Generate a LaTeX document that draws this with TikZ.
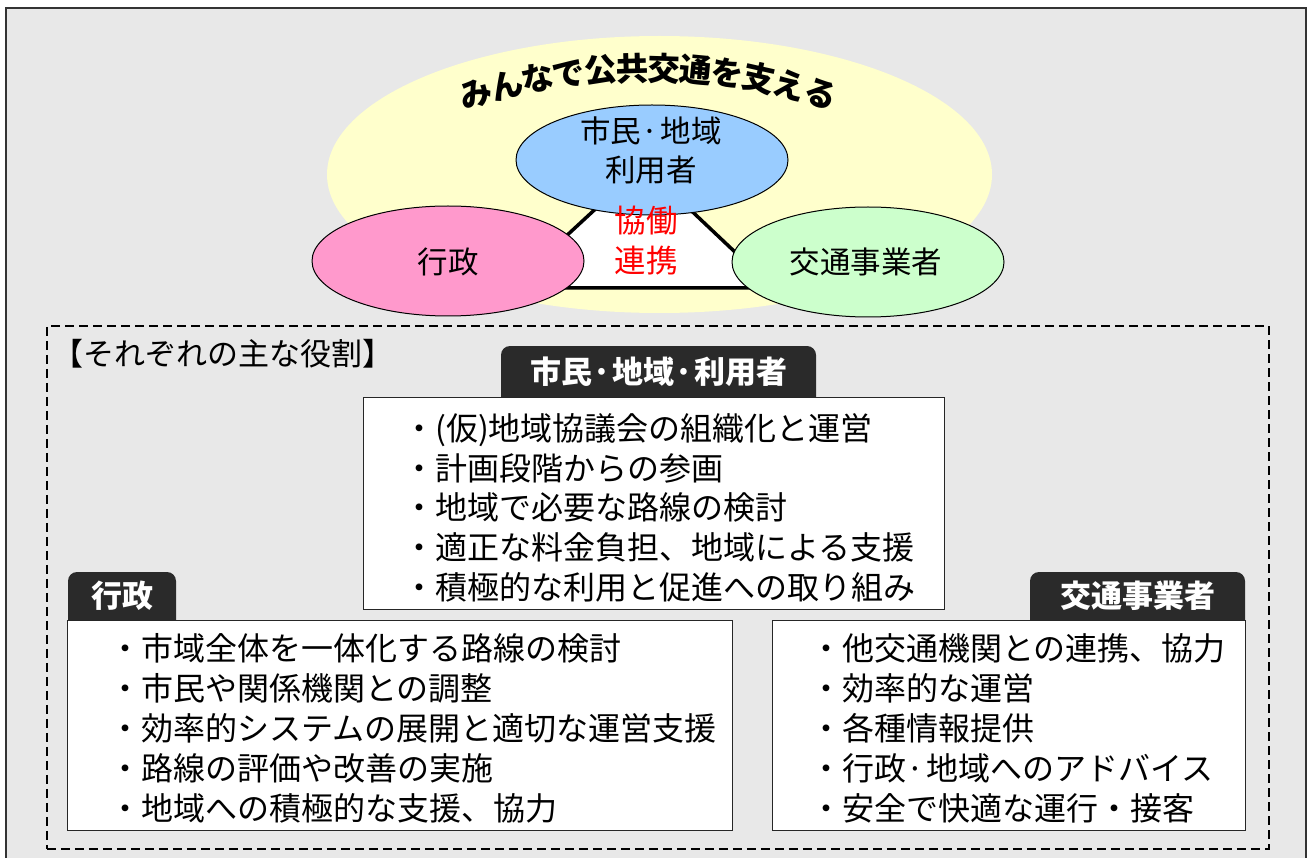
\documentclass[tikz,border=0pt]{standalone}
\usepackage{fontspec}
\setmainfont{Noto Sans CJK JP}
\usetikzlibrary{shapes.geometric,calc}
\definecolor{bggray}{RGB}{232,232,232}
\definecolor{ylw}{RGB}{255,255,204}
\definecolor{blu}{RGB}{153,204,255}
\definecolor{pnk}{RGB}{255,153,204}
\definecolor{grn}{RGB}{204,255,204}
\definecolor{tabc}{RGB}{42,42,42}
\newcommand\mdot{\makebox[0.63em][l]{·}}
\begin{document}
\begin{tikzpicture}[x=1pt,y=-1pt,
  ell/.style={ellipse,inner sep=0pt,minimum width=272pt,minimum height=110pt,draw=black,line width=1pt},
  elltext/.style={inner sep=0pt,font=\fontsize{30.5}{30.5}\selectfont,text height=26.8pt,text depth=3.7pt},
  redtext/.style={inner sep=0pt,text=red,font=\fontsize{31.5}{31.5}\selectfont,text height=27.7pt,text depth=3.8pt},
  titlechar/.style={inner sep=0pt,font=\fontsize{32.5}{32.5}\selectfont\bfseries,text height=28.6pt,text depth=3.9pt},
  bodytext/.style={anchor=west,inner sep=0pt,font=\fontsize{32}{32}\selectfont,text height=28.2pt,text depth=3.8pt},
  hdrtext/.style={anchor=west,inner sep=0pt,font=\fontsize{31}{31}\selectfont,text height=27.3pt,text depth=3.7pt},
  tabtext/.style={inner sep=0pt,text=white,font=\fontsize{31}{31}\selectfont\bfseries,text height=27.3pt,text depth=3.7pt},
  rolebox/.style={draw=black!85,fill=white,line width=1.4pt,inner sep=0pt,anchor=north west},
  tabshape/.style={fill=tabc,rounded corners=9pt}]
\useasboundingbox (0,0) rectangle (1311,858);
\clip (0,0) rectangle (1311,858);
\fill[white] (0,0) rectangle (1311,858);
\fill[bggray] (6,8) rectangle (1306,880);
\draw[line width=2pt,black!80] (6,880) -- (6,8) -- (1306,8) -- (1306,880);

% top diagram
\node[ellipse,inner sep=0pt,fill=ylw,minimum width=665pt,minimum height=277pt] (yellow) at (659.5,174.5) {};
\coordinate (ta) at (643,165);
\coordinate (tb) at (510,288);
\coordinate (tc) at (773,288);
\draw[fill=white,line width=3.5pt,line join=miter] (ta) -- (tb) -- (tc) -- cycle;
\node[ell,fill=blu] (citizen) at (652,160) {};
\node[ell,fill=pnk] (admin) at (448,261) {};
\node[ell,fill=grn] (operator) at (868,262) {};
\node[elltext] (ct1) at (651,131) {市民\mdot 地域};
\node[elltext] (ct2) at (651,170) {利用者};
\node[elltext] (at) at (448,262) {行政};
\node[elltext] (ot) at (866,262) {交通事業者};
\node[redtext] (r1) at (646,221) {協働};
\node[redtext] (r2) at (646,261) {連携};

% arched title
\foreach \c [count=\i from 0] in {み,ん,な,で,公,共,交,通,を,支,え,る} {
  \pgfmathsetmacro\ang{-16.6+\i*3.02}
  \pgfmathsetmacro\px{648+604*sin(\ang)}
  \pgfmathsetmacro\py{672-604*cos(\ang)}
  \node[titlechar,rotate={-1.2*\ang}] (title\i) at (\px,\py) {\c};
}

% roles
\node[draw=black,dash pattern=on 9pt off 5pt,line width=1.8pt,inner sep=0pt,anchor=north west,minimum width=1222pt,minimum height=523pt] (roles) at (46,325) {};
\node[hdrtext] (hdr) at (52,354) {【それぞれの主な役割】};

% citizens box
\fill[tabshape] (501,346) rectangle (816,412);
\node[rolebox,minimum width=581pt,minimum height=212pt] (box1) at (363,397) {};
\node[tabtext] (tab1) at (659,372) {市民\mdot 地域\mdot 利用者};
\foreach \t [count=\i from 0] in {・(仮)地域協議会の組織化と運営,・計画段階からの参画,・地域で必要な路線の検討,・適正な料金負担、地域による支援,・積極的な利用と促進への取り組み} {
  \node[bodytext] (b1l\i) at (403,{428+39.8*\i}) {\t};
}

% administration box
\fill[tabshape] (68,572) rectangle (176,635);
\node[rolebox,minimum width=665pt,minimum height=210pt] (box2) at (67,620) {};
\node[tabtext] (tab2) at (122,596) {行政};
\foreach \t [count=\i from 0] in {・市域全体を一体化する路線の検討,・市民や関係機関との調整,・効率的システムの展開と適切な運営支援,・路線の評価や改善の実施,・地域への積極的な支援、協力} {
  \node[bodytext] (b2l\i) at (109,{648+40*\i}) {\t};
}

% operator box
\fill[tabshape] (1030,572) rectangle (1245,635);
\node[rolebox,minimum width=473pt,minimum height=210pt] (box3) at (772,620) {};
\node[tabtext] (tab3) at (1137.5,596) {交通事業者};
\foreach \t [count=\i from 0] in {・他交通機関との連携、協力,・効率的な運営,・各種情報提供,・行政\mdot 地域へのアドバイス,・安全で快適な運行・接客} {
  \node[bodytext] (b3l\i) at (810,{648+40*\i}) {\t};
}
\end{tikzpicture}
\end{document}
